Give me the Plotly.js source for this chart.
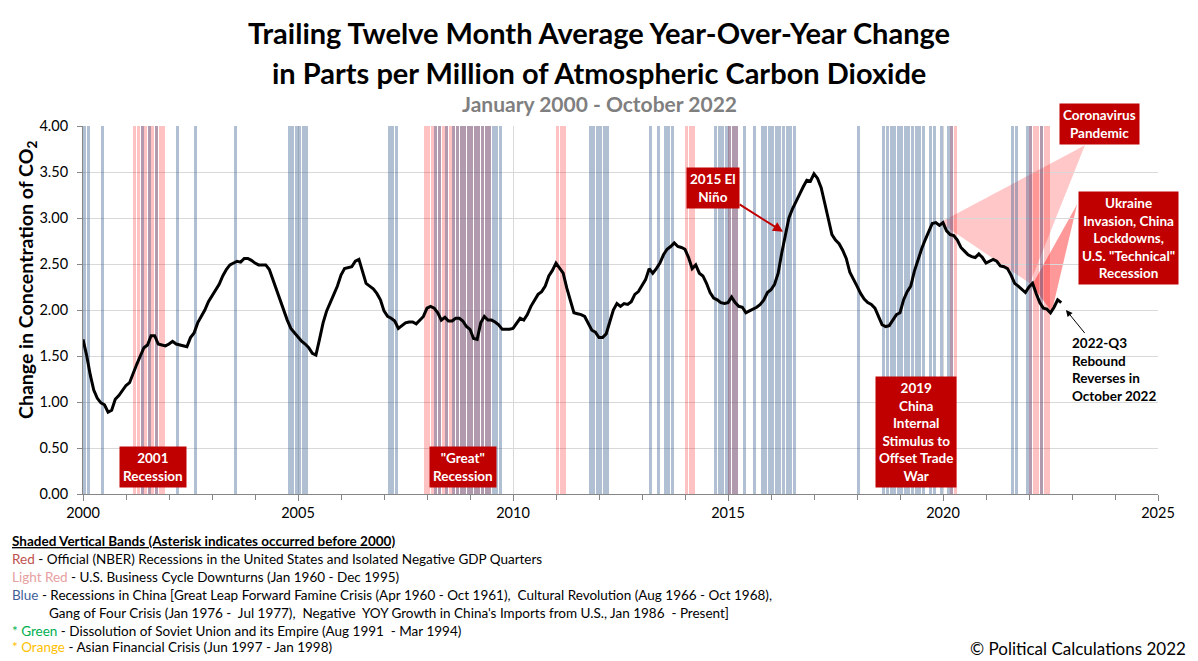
<!DOCTYPE html>
<html><head><meta charset="utf-8">
<script src="https://cdn.plot.ly/plotly-3.0.1.min.js"></script>
<style>html,body{margin:0;padding:0;background:#fff;} #chart{width:1198px;height:661px;}</style>
</head><body><div id="chart"></div>
<script>
// ---------------- DATA ----------------
const startYear = 2000; // first month of series = January 2000
const co2Change = [
  // 2000
  1.68, 1.51, 1.30, 1.13, 1.04, 0.99, 0.97, 0.89, 0.91, 1.03, 1.07, 1.13,
  // 2001
  1.18, 1.21, 1.32, 1.41, 1.50, 1.59, 1.62, 1.72, 1.72, 1.63, 1.62, 1.61,
  // 2002
  1.63, 1.66, 1.63, 1.62, 1.61, 1.60, 1.70, 1.75, 1.86, 1.93, 2.00, 2.09,
  // 2003
  2.15, 2.22, 2.28, 2.37, 2.44, 2.49, 2.51, 2.53, 2.52, 2.56, 2.56, 2.54,
  // 2004
  2.51, 2.49, 2.49, 2.49, 2.44, 2.33, 2.20, 2.11, 2.00, 1.89, 1.80, 1.75,
  // 2005
  1.70, 1.66, 1.63, 1.59, 1.53, 1.51, 1.68, 1.86, 1.99, 2.09, 2.17, 2.26,
  // 2006
  2.38, 2.45, 2.46, 2.47, 2.53, 2.55, 2.42, 2.29, 2.26, 2.23, 2.18, 2.11,
  // 2007
  1.99, 1.93, 1.91, 1.88, 1.80, 1.83, 1.86, 1.87, 1.87, 1.85, 1.89, 1.93,
  // 2008
  2.02, 2.04, 2.02, 1.97, 1.89, 1.92, 1.88, 1.88, 1.91, 1.91, 1.88, 1.82,
  // 2009
  1.79, 1.69, 1.68, 1.86, 1.93, 1.89, 1.89, 1.87, 1.84, 1.79, 1.79, 1.79,
  // 2010
  1.80, 1.86, 1.91, 1.89, 1.95, 2.04, 2.11, 2.17, 2.20, 2.26, 2.37, 2.43,
  // 2011
  2.51, 2.46, 2.40, 2.24, 2.09, 1.97, 1.96, 1.95, 1.93, 1.85, 1.78, 1.76,
  // 2012
  1.70, 1.70, 1.74, 1.87, 2.00, 2.07, 2.04, 2.07, 2.06, 2.09, 2.17, 2.20,
  // 2013
  2.26, 2.33, 2.45, 2.40, 2.45, 2.51, 2.60, 2.66, 2.69, 2.73, 2.69, 2.68,
  // 2014
  2.66, 2.57, 2.45, 2.49, 2.40, 2.37, 2.29, 2.19, 2.13, 2.11, 2.08, 2.07,
  // 2015
  2.08, 2.14, 2.08, 2.04, 2.03, 1.97, 1.99, 2.01, 2.03, 2.06, 2.11, 2.19,
  // 2016
  2.22, 2.28, 2.40, 2.62, 2.82, 3.00, 3.10, 3.19, 3.26, 3.34, 3.41, 3.40,
  // 2017
  3.48, 3.43, 3.33, 3.16, 3.00, 2.82, 2.76, 2.72, 2.65, 2.56, 2.41, 2.34,
  // 2018
  2.26, 2.18, 2.12, 2.08, 2.06, 2.02, 1.93, 1.84, 1.82, 1.83, 1.89, 1.95,
  // 2019
  1.97, 2.11, 2.20, 2.26, 2.42, 2.55, 2.66, 2.76, 2.86, 2.94, 2.95, 2.92,
  // 2020
  2.95, 2.86, 2.82, 2.81, 2.76, 2.68, 2.64, 2.60, 2.58, 2.57, 2.61, 2.57,
  // 2021
  2.51, 2.53, 2.55, 2.53, 2.48, 2.47, 2.45, 2.38, 2.29, 2.26, 2.22, 2.19,
  // 2022 (Jan - Oct)
  2.25, 2.29, 2.18, 2.08, 2.02, 2.01, 1.97, 2.03, 2.11, 2.08
];

// Red: official NBER recessions and isolated negative GDP quarters
const redBandMonths = [
  '2001-03','2001-04','2001-05','2001-06','2001-07','2001-08','2001-09','2001-10','2001-11',
  '2007-12','2008-01','2008-02','2008-03','2008-04','2008-05','2008-06','2008-07','2008-08',
  '2008-09','2008-10','2008-11','2008-12','2009-01','2009-02','2009-03','2009-04','2009-05','2009-06',
  '2011-01','2011-02','2011-03',
  '2014-01','2014-02','2014-03',
  '2015-01','2015-02','2015-03',
  '2020-03','2020-04',
  '2022-01','2022-02','2022-03','2022-04','2022-05','2022-06'
];

// Blue: negative YOY growth in China's imports from the U.S.
const blueBandMonths = [
  '2000-01','2000-02','2000-06','2001-05','2001-07','2001-09','2002-03','2002-08','2003-07',
  '2004-10','2004-11','2004-12','2005-01','2005-02','2005-03',
  '2007-02','2007-03','2007-04',
  '2008-03','2008-04','2008-06','2008-08','2008-09','2008-10','2008-11','2008-12',
  '2009-01','2009-02','2009-03','2009-04','2009-05','2009-06','2009-07','2009-08','2009-09',
  '2011-10','2011-11','2011-12','2012-01','2012-02','2012-03',
  '2013-03','2013-05','2013-07','2013-08','2013-09',
  '2014-09','2014-10','2014-11','2014-12','2015-01','2015-02','2015-03','2015-05','2015-08',
  '2015-10','2015-11','2015-12','2016-01','2016-02','2016-03','2016-04','2016-05','2016-06','2016-07',
  '2018-01','2018-08','2018-09','2018-10','2018-11','2018-12',
  '2019-01','2019-02','2019-03','2019-04','2019-05','2019-06','2019-07','2019-09','2019-10','2019-12',
  '2020-02','2020-03',
  '2021-08','2021-09','2021-12','2022-01','2022-04'
];

const xTickYears = [2000, 2005, 2010, 2015, 2020, 2025];
const xTickLabels = ['2000', '2005', '2010', '2015', '2020', '2025'];
const yTickValues = [0, 0.5, 1.0, 1.5, 2.0, 2.5, 3.0, 3.5, 4.0];
const yTickLabels = ['0.00','0.50','1.00','1.50','2.00','2.50','3.00','3.50','4.00'];

// ---------------- BUILD ----------------
const Y_MAX = 4;
const FONT = "Lato, 'Open Sans', 'DejaVu Sans', sans-serif";
function monthToYear(s){ const p = s.split('-').map(Number); return p[0] + (p[1]-1)/12; }
const lineX = co2Change.map((v, i) => startYear + i/12);

const bandWidth = 0.82/12;
const redTrace = {
  type:'bar', x: redBandMonths.map(s => monthToYear(s) + 1/24), y: redBandMonths.map(() => Y_MAX),
  width: bandWidth, marker:{color:'rgba(255,0,0,0.24)', line:{width:0}}, hoverinfo:'skip', showlegend:false
};
const blueTrace = {
  type:'bar', x: blueBandMonths.map(s => monthToYear(s) + 1/24), y: blueBandMonths.map(() => Y_MAX),
  width: bandWidth, marker:{color:'rgba(60,95,145,0.40)', line:{width:0}}, hoverinfo:'skip', showlegend:false
};
const lineTrace = {
  type:'scatter', mode:'lines', x: lineX, y: co2Change,
  line:{color:'#000', width:3}, hoverinfo:'skip', showlegend:false
};

function box(text, x, y){
  return {text:text, xref:'paper', yref:'paper', x:x, y:y, xanchor:'center', yanchor:'middle',
    showarrow:false, bgcolor:'#C00000', borderpad:3,
    font:{family:FONT, size:13.5, color:'#fff', weight:'bold'}};
}
function legendLine(text, x, y){
  return {text:text, xref:'paper', yref:'paper', x:x, y:y, xanchor:'left', yanchor:'middle',
    showarrow:false, font:{family:FONT, size:13.5, color:'#000'}};
}

const annotations = [
  {text:'<b>Trailing Twelve Month Average Year-Over-Year Change</b>', xref:'paper', yref:'paper',
   x:0.48, y:1.2554, xanchor:'center', yanchor:'middle', showarrow:false, font:{family:FONT, size:29, color:'#000'}},
  {text:'<b>in Parts per Million of Atmospheric Carbon Dioxide</b>', xref:'paper', yref:'paper',
   x:0.48, y:1.1467, xanchor:'center', yanchor:'middle', showarrow:false, font:{family:FONT, size:29, color:'#000'}},
  {text:'<b>January 2000 - October 2022</b>', xref:'paper', yref:'paper',
   x:0.48, y:1.0598, xanchor:'center', yanchor:'middle', showarrow:false, font:{family:FONT, size:21, color:'#7f7f7f'}},
  {text:'<b>Change in Concentration of CO<sub>2</sub></b>', xref:'paper', yref:'paper', textangle:-90,
   x:-0.0521, y:0.5815, xanchor:'center', yanchor:'middle', showarrow:false, font:{family:FONT, size:19.5, color:'#000'}},
  box('2001<br>Recession', 0.0651, 0.0734),
  box('"Great"<br>Recession', 0.3535, 0.0734),
  box('2019<br>China<br>Internal<br>Stimulus to<br>Offset Trade<br>War', 0.7749, 0.1685),
  box('Coronavirus<br>Pandemic', 0.9460, 1.0054),
  box('Ukraine<br>Invasion, China<br>Lockdowns,<br>U.S. "Technical"<br>Recession', 0.9721, 0.6957),
  Object.assign(box('2015 El<br>Niño', 0, 0), {xref:'x', yref:'y', x:2016.28, y:2.85, showarrow:true,
     ax:-70, ay:-44, arrowcolor:'#C00000', arrowwidth:2, arrowhead:2, arrowsize:1}),
  {text:'<b>2022-Q3<br>Rebound<br>Reverses in<br>October 2022</b>', xref:'x', yref:'y', x:2022.86, y:2.0,
   showarrow:true, ax:48, ay:59, align:'left', arrowcolor:'#000', arrowwidth:1, arrowhead:2, arrowsize:1.3,
   font:{family:FONT, size:13.5, color:'#000'}},
  legendLine('<b><u>Shaded Vertical Bands (Asterisk indicates occurred before 2000)</u></b>', -0.0679, -0.1277),
  legendLine('<span style="color:#C0504D">Red</span> - Official (NBER) Recessions in the United States and Isolated Negative GDP Quarters', -0.0679, -0.1766),
  legendLine('<span style="color:#E6A0A0">Light Red</span> - U.S. Business Cycle Downturns (Jan 1960 - Dec 1995)', -0.0679, -0.2255),
  legendLine('<span style="color:#3F5F9A">Blue</span> - Recessions in China [Great Leap Forward Famine Crisis (Apr 1960 - Oct 1961),  Cultural Revolution (Aug 1966 - Oct 1968),', -0.0679, -0.2745),
  legendLine('Gang of Four Crisis (Jan 1976 -  Jul 1977),  Negative  YOY Growth in China\'s Imports from U.S., Jan 1986  - Present]', -0.0335, -0.3234),
  legendLine('<span style="color:#00B050">* Green</span> - Dissolution of Soviet Union and its Empire (Aug 1991  - Mar 1994)', -0.0679, -0.3723),
  legendLine('<span style="color:#FFC000">* Orange</span> - Asian Financial Crisis (Jun 1997 - Jan 1998)', -0.0679, -0.4158),
  {text:'© Political Calculations 2022', xref:'paper', yref:'paper', x:1.0279, y:-0.4185, xanchor:'right', yanchor:'middle',
   showarrow:false, font:{family:FONT, size:17, color:'#000'}}
];

const shapes = [
  {type:'path', xref:'x', yref:'y', layer:'below', line:{width:0}, fillcolor:'rgba(255,0,0,0.22)',
   path:'M 2019.93 2.95 L 2023.30 3.79 L 2022.02 2.29 Z'},
  {type:'path', xref:'x', yref:'y', layer:'below', line:{width:0}, fillcolor:'rgba(255,0,0,0.40)',
   path:'M 2022.07 2.27 L 2023.12 3.15 L 2022.53 1.98 Z'}
];

const layout = {
  width:1198, height:661, paper_bgcolor:'#fff', plot_bgcolor:'#fff',
  margin:{l:83, r:40, t:126, b:167}, barmode:'overlay', bargap:0, showlegend:false, hovermode:false,
  font:{family:FONT, size:14, color:'#000'},
  xaxis:{range:[2000, 2025], tickmode:'array', tickvals:xTickYears, ticktext:xTickLabels,
    ticks:'outside', ticklen:6, tickcolor:'#868686', showline:true, linecolor:'#868686', linewidth:1,
    showgrid:true, gridcolor:'#d9d9d9', gridwidth:1, zeroline:false, fixedrange:true,
    tickfont:{family:FONT, size:14.5, color:'#000'},
    minor:{tickmode:'linear', tick0:2000, dtick:1, ticks:'outside', ticklen:5, tickcolor:'#868686', showgrid:false}},
  yaxis:{range:[0, Y_MAX], tickmode:'array', tickvals:yTickValues, ticktext:yTickLabels,
    ticks:'outside', ticklen:5, tickcolor:'#868686', showline:true, linecolor:'#868686', linewidth:1,
    showgrid:true, gridcolor:'#d9d9d9', gridwidth:1, zeroline:false, fixedrange:true,
    ticklabelstandoff:6, tickfont:{family:FONT, size:14.5, color:'#000'}},
  annotations:annotations, shapes:shapes
};

Plotly.newPlot('chart', [redTrace, blueTrace, lineTrace], layout, {staticPlot:true, displayModeBar:false});
</script>
</body></html>
